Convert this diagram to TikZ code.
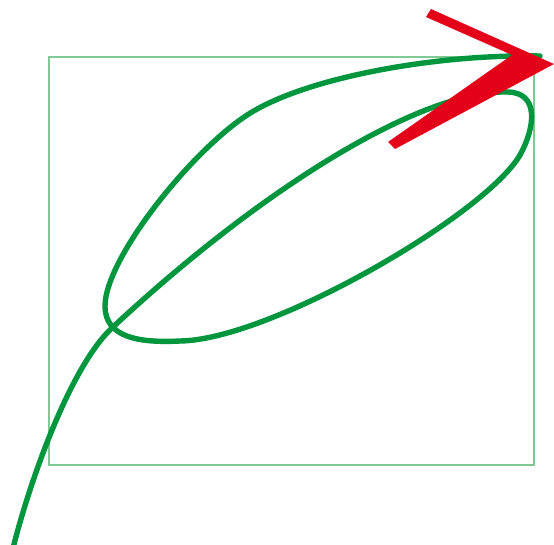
\documentclass[tikz,border=0pt]{standalone}
\definecolor{curvegreen}{RGB}{0,150,62}
\definecolor{boxgreen}{RGB}{128,200,148}
\definecolor{arrowred}{RGB}{228,0,24}
\tikzset{
  bboxline/.style={draw=boxgreen, line width=2.8pt},
  loopcurve/.style={draw=curvegreen, line width=5.4pt, line cap=round, line join=round},
  bigtip/.style={fill=arrowred, draw=none}
}
\begin{document}
\begin{tikzpicture}[x=1pt,y=-1pt]
\useasboundingbox (0,0) rectangle (554,544);
% bounding rectangle
\path[bboxline] (49,57) rectangle (534,465);
% looping curve
\coordinate (start) at (12,552);
\coordinate (cross) at (113,327);
\coordinate (looptop) at (507,92);
\coordinate (loopright) at (520,155);
\coordinate (loopbottom) at (180,341);
\coordinate (loopleft) at (105,306);
\coordinate (upper) at (252,112);
\coordinate (finish) at (540,56);
\path[loopcurve] (start)
  .. controls (32,472) and (73,363) .. (cross)
  .. controls (260,190) and (420,90) .. (looptop)
  .. controls (540,92) and (535,128) .. (loopright)
  .. controls (485,215) and (270,340) .. (loopbottom)
  .. controls (140,343) and (105,338) .. (loopleft)
  .. controls (105,258) and (195,146) .. (upper)
  .. controls (312,76) and (440,54) .. (finish);
% red arrow head
\path[bigtip] (431,9) -- (554,64) -- (395,149) -- (388,142) -- (512,55) -- (426,17) -- cycle;
\end{tikzpicture}
\end{document}
